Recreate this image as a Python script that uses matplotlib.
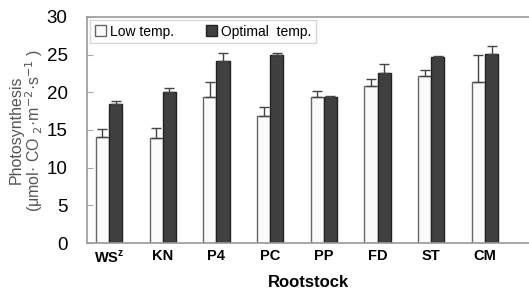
import numpy as np
import matplotlib
matplotlib.use("Agg")
import matplotlib.pyplot as plt

plt.rcParams['font.family'] = ['Liberation Sans Narrow', 'Liberation Sans', 'DejaVu Sans']

# Data
rootstocks = ['WS$^\\mathregular{z}$', 'KN', 'P4', 'PC', 'PP', 'FD', 'ST', 'CM']
low_temp = [14.0, 13.9, 19.4, 16.8, 19.4, 20.8, 22.2, 21.4]
low_err = [1.1, 1.4, 2.0, 1.3, 0.7, 1.0, 0.7, 3.6]
opt_temp = [18.5, 20.0, 24.1, 24.9, 19.4, 22.6, 24.7, 25.1]
opt_err = [0.4, 0.6, 1.1, 0.3, 0.15, 1.1, 0.15, 1.1]

x = np.arange(len(rootstocks))
w = 0.245

fig = plt.figure(figsize=(5.29, 2.96), dpi=100)
ax = fig.add_axes([0.1645, 0.179, 0.8355, 0.764])

ax.bar(x - w / 2, low_temp, w, color='#fafafa', edgecolor='#666666', linewidth=1.0,
       yerr=[np.zeros(len(low_err)), low_err], capsize=3.5,
       error_kw=dict(ecolor='#444444', elinewidth=1.0, capthick=1.0), label='Low temp.')
ax.bar(x + w / 2, opt_temp, w, color='#404040', edgecolor='#222222', linewidth=1.0,
       yerr=[np.zeros(len(opt_err)), opt_err], capsize=3.5,
       error_kw=dict(ecolor='#444444', elinewidth=1.0, capthick=1.0), label='Optimal  temp.')

ax.set_xlim(-0.41, 7.82)
ax.set_ylim(0, 30)
ax.set_yticks(range(0, 31, 5))
ax.tick_params(axis='y', direction='in', length=4, color='#aaaaaa', labelsize=13.5, pad=14)
ax.set_xticks(x)
ax.set_xticklabels(rootstocks, fontweight='bold', fontsize=10.5)
ax.tick_params(axis='x', length=0, pad=4)

for s in ['left', 'bottom', 'top']:
    ax.spines[s].set_color('#999999')
    ax.spines[s].set_linewidth(1.2)
ax.spines['right'].set_visible(False)

ax.set_xlabel('Rootstock', fontweight='bold', fontsize=12, labelpad=7)
ax.set_ylabel('Photosynthesis\n(μmol· CO $_{2}$·m$^{-2}$·s$^{-1}$ )', fontsize=11.5,
              color='#555555', linespacing=1.0, labelpad=1)

leg = ax.legend(loc='upper left', ncol=2, fontsize=10, frameon=True, fancybox=False,
                edgecolor='#cccccc', handlelength=0.8, handleheight=0.8, handletextpad=0.3,
                columnspacing=2.3, borderaxespad=0.25, borderpad=0.3)
leg.get_frame().set_linewidth(1.0)

fig.savefig('out.png', dpi=100)
